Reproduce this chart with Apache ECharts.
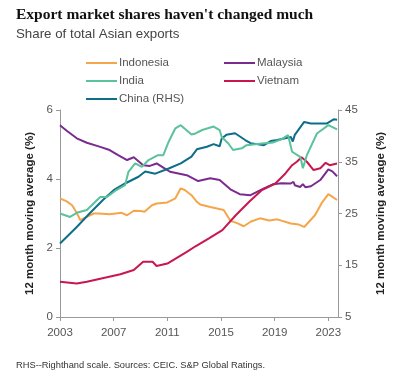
<!DOCTYPE html>
<html><head><meta charset="utf-8">
<script src="https://cdn.jsdelivr.net/npm/echarts@6/dist/echarts.min.js"></script>
<style>html,body{margin:0;padding:0;background:#fff}#c{width:404px;height:387px}</style>
</head><body><div id="c"></div>
<script>
const xTicks = [2003, 2007, 2011, 2015, 2019, 2023];
const leftTicks = [0, 2, 4, 6];
const rightTicks = [5, 15, 25, 35, 45];

const indonesia = [[2003,3.44],[2003.5,3.35],[2003.9,3.24],[2004.2,3.05],[2004.4,2.9],[2004.5,2.81],[2005,2.9],[2005.5,3.0],[2005.9,3.0],[2006.7,2.98],[2007.6,3.02],[2008,2.95],[2008.5,3.08],[2009,3.07],[2009.3,3.05],[2009.85,3.24],[2010.2,3.29],[2011,3.32],[2011.6,3.44],[2012,3.73],[2012.3,3.68],[2012.8,3.53],[2013.2,3.34],[2013.45,3.26],[2014.2,3.19],[2015.2,3.10],[2015.7,2.79],[2016.2,2.72],[2016.7,2.63],[2017.2,2.76],[2017.9,2.86],[2018.6,2.8],[2019.2,2.83],[2020.2,2.71],[2020.8,2.68],[2021.2,2.61],[2022,2.95],[2022.5,3.3],[2023,3.56],[2023.65,3.39]];
const malaysia = [[2003,5.56],[2003.5,5.4],[2004.25,5.18],[2005,5.05],[2006,4.93],[2006.7,4.84],[2007.3,4.7],[2008,4.55],[2008.5,4.63],[2009.2,4.40],[2009.7,4.38],[2010.2,4.45],[2010.7,4.33],[2011.2,4.21],[2012.45,4.11],[2013.3,3.94],[2014.2,4.02],[2014.9,3.97],[2015.7,3.70],[2016.4,3.56],[2017.2,3.53],[2018.2,3.73],[2018.9,3.85],[2019.5,3.88],[2020.2,3.87],[2020.4,3.92],[2020.5,3.82],[2020.9,3.77],[2021.1,3.85],[2021.3,3.76],[2021.7,3.79],[2022.4,3.97],[2023,4.28],[2023.3,4.22],[2023.65,4.08]];
const india = [[2003,3.0],[2003.75,2.90],[2004.25,3.02],[2005,3.1],[2006,3.48],[2006.5,3.48],[2007.2,3.68],[2007.85,3.82],[2008.1,4.21],[2008.6,4.45],[2009.1,4.35],[2009.6,4.55],[2010.3,4.69],[2010.7,4.69],[2011.1,5.08],[2011.6,5.47],[2012,5.56],[2012.8,5.29],[2013.1,5.32],[2013.6,5.42],[2014.45,5.52],[2014.9,5.42],[2015.05,5.22],[2015.55,5.03],[2015.9,4.84],[2016.55,4.89],[2016.9,4.98],[2018.05,5.03],[2018.9,5.06],[2019.5,5.15],[2020,5.27],[2020.3,4.79],[2020.9,4.64],[2021.0,4.5],[2021.1,4.31],[2021.4,4.69],[2022.15,5.32],[2023,5.56],[2023.65,5.44]];
const vietnam = [[2003,1.02],[2004.25,0.97],[2005,1.02],[2006,1.11],[2007.5,1.24],[2008.5,1.36],[2009.2,1.6],[2009.9,1.6],[2010.2,1.48],[2011,1.55],[2012.45,1.89],[2013.1,2.05],[2014.1,2.28],[2015.1,2.52],[2016.1,2.95],[2017.1,3.34],[2018.05,3.68],[2019.05,3.87],[2019.8,4.16],[2020.3,4.40],[2020.65,4.50],[2021.0,4.63],[2021.4,4.50],[2021.9,4.26],[2022.4,4.31],[2022.8,4.47],[2023.1,4.40],[2023.65,4.45]];
const china = [[2003,19.2],[2004.25,22.4],[2005.2,25.0],[2006.2,27.6],[2007,29.5],[2007.85,30.8],[2008.85,32.1],[2009.35,33.1],[2010.1,32.7],[2011.1,33.7],[2012,34.7],[2012.8,36.0],[2013.2,37.4],[2013.95,37.9],[2014.45,38.4],[2014.9,38.0],[2015.05,39.5],[2015.4,40.2],[2016.05,40.5],[2016.8,39.2],[2017.2,38.6],[2018.2,38.2],[2018.7,39.0],[2019.2,39.2],[2020.2,39.8],[2020.35,38.9],[2020.5,40.2],[2021.2,42.7],[2021.7,42.4],[2022.9,42.4],[2023.4,43.2],[2023.65,43.1]];

const colors = {'Indonesia':'#F5A54A','India':'#5BC29B','China (RHS)':'#0D6E8A','Malaysia':'#7A2C8E','Vietnam':'#C8174F'};

const chart = echarts.init(document.getElementById('c'), null, {renderer:'canvas'});
const sans = 'Liberation Sans';
function mk(name, data, yi){
  return {name, type:'line', data, yAxisIndex: yi, showSymbol:false, symbol:'none',
    lineStyle:{width:2, color:colors[name]}, itemStyle:{color:colors[name]}, z: 2};
}
const legPos = [
  ['Indonesia',81,52],['Malaysia',219,52],['India',81,70],['Vietnam',219,70],['China (RHS)',81,88]
];
chart.setOption({
  animation:false,
  textStyle:{fontFamily:sans},
  title:[
    {text:"Export market shares haven't changed much", left:16, top:7, padding:0,
     textStyle:{fontFamily:'Liberation Serif', fontSize:15.5, fontWeight:'bold', color:'#111'}},
    {text:'Share of total Asian exports', left:16, top:28, padding:0,
     textStyle:{fontFamily:sans, fontSize:13.3, fontWeight:'normal', color:'#444'}},
    {text:'RHS--Righthand scale. Sources: CEIC. S&P Global Ratings.', left:16, top:361, padding:0,
     textStyle:{fontFamily:sans, fontSize:9.3, fontWeight:'normal', color:'#333'}}
  ],
  legend: legPos.map(p=>({data:[p[0]], left:p[1], top:p[2], itemWidth:31, itemHeight:10, itemGap:4,
     icon:'path://M0,4 L31,4 L31,6 L0,6 Z',
     textStyle:{fontFamily:sans, fontSize:11.5, color:'#555', padding:[0,0,0,-3]}})),
  grid:{left:60, right:66, top:110, bottom:70, containLabel:false},
  xAxis:{type:'value', min:2003, max:2023.72, interval:4,
    axisLine:{lineStyle:{color:'#999'}}, axisTick:{show:true, length:4, lineStyle:{color:'#999'}, customValues:xTicks},
    axisLabel:{color:'#555', fontSize:11.5, margin:10, customValues:xTicks, formatter:v=>String(v)},
    splitLine:{show:false}},
  yAxis:[
    {type:'value', min:0, max:6, interval:2, position:'left',
     name:'12 month moving average (%)', nameLocation:'middle', nameGap:18, nameRotate:90,
     nameTextStyle:{fontFamily:sans, fontSize:11.5, fontWeight:'bold', color:'#222'},
     axisLine:{show:true, lineStyle:{color:'#999'}}, axisTick:{show:true, length:4, lineStyle:{color:'#999'}, customValues:leftTicks},
     axisLabel:{color:'#555', fontSize:11.5, margin:7, customValues:leftTicks}, splitLine:{show:false}},
    {type:'value', min:5, max:45, interval:10, position:'right',
     name:'12 month moving average (%)', nameLocation:'middle', nameGap:37, nameRotate:90,
     nameTextStyle:{fontFamily:sans, fontSize:11.5, fontWeight:'bold', color:'#222'},
     axisLine:{show:true, lineStyle:{color:'#999'}}, axisTick:{show:true, length:4, lineStyle:{color:'#999'}, customValues:rightTicks},
     axisLabel:{color:'#555', fontSize:11.5, margin:7, customValues:rightTicks}, splitLine:{show:false}}
  ],
  series:[
    mk('Indonesia', indonesia, 0),
    mk('Malaysia', malaysia, 0),
    mk('Vietnam', vietnam, 0),
    mk('China (RHS)', china, 1),
    mk('India', india, 0)
  ]
});
</script></body></html>
